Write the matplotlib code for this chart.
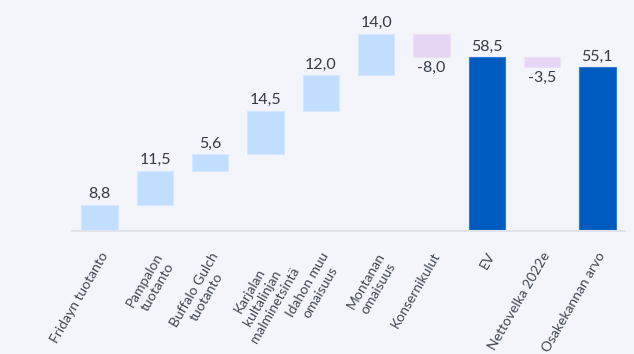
import matplotlib
matplotlib.use("Agg")
import matplotlib.pyplot as plt
import numpy as np

categories = ["Fridayn tuotanto", "Pampalon\ntuotanto", "Buffalo Gulch\ntuotanto",
              "Karjalan\nkultalinjan\nmalminetsintä", "Idahon muu\nomaisuus",
              "Montanan\nomaisuus", "Konsernikulut", "EV", "Nettovelka 2022e",
              "Osakekannan arvo"]
values = [8.8, 11.5, 5.6, 14.5, 12.0, 14.0, -8.0, 58.5, -3.5, 55.1]
is_total = [False, False, False, False, False, False, False, True, False, True]
labels = ["8,8", "11,5", "5,6", "14,5", "12,0", "14,0", "-8,0", "58,5", "-3,5", "55,1"]

BG = "#f3f5fa"
C_POS = "#c2deff"
C_NEG = "#e6d5f5"
C_TOT = "#005bc0"

plt.rcParams['font.family'] = ['Lato', 'DejaVu Sans']

fig = plt.figure(figsize=(6.34, 3.54), dpi=100, facecolor=BG)
ax = fig.add_axes([72/634, 1-231/354, (625-72)/634, (231-10)/354])
ax.set_facecolor(BG)

x = np.arange(len(categories))
running = 0.0
for i, (v, tot) in enumerate(zip(values, is_total)):
    if tot:
        bottom, height, color = 0, v, C_TOT
        edge = "#2f7ad6"
        running = v
    else:
        bottom = running
        height = v
        color = C_POS if v > 0 else C_NEG
        edge = "#d6e8ff" if v > 0 else "#eee2f8"
        running += v
    ax.bar(i, height, bottom=bottom, width=0.66, color=color, edgecolor=edge, linewidth=0.8)
    top = max(bottom, bottom + height)
    low = min(bottom, bottom + height)
    if v >= 0:
        ax.annotate(labels[i], (i, top), xytext=(0, 2.5), textcoords="offset points",
                    ha="center", va="bottom", fontsize=11.5, color="#343a46")
    else:
        ax.annotate(labels[i], (i, low), xytext=(0, -2.5), textcoords="offset points",
                    ha="center", va="top", fontsize=11.5, color="#343a46")

ax.set_xlim(-0.5, len(categories) - 0.5)
ax.set_ylim(0, (231-10)/2.974)
for s in ["top", "right", "left"]:
    ax.spines[s].set_visible(False)
ax.spines["bottom"].set_color("#e0e3ea")
ax.spines["bottom"].set_linewidth(1.5)
ax.set_yticks([])
ax.set_xticks(x)
ax.set_xticklabels(categories, rotation=60, ha="right", va="top", rotation_mode="anchor",
                   fontsize=10, color="#404652", multialignment="center", linespacing=1.25)
ax.tick_params(axis="x", length=0, pad=14)

fig.savefig("out.png", dpi=100, facecolor=BG)
